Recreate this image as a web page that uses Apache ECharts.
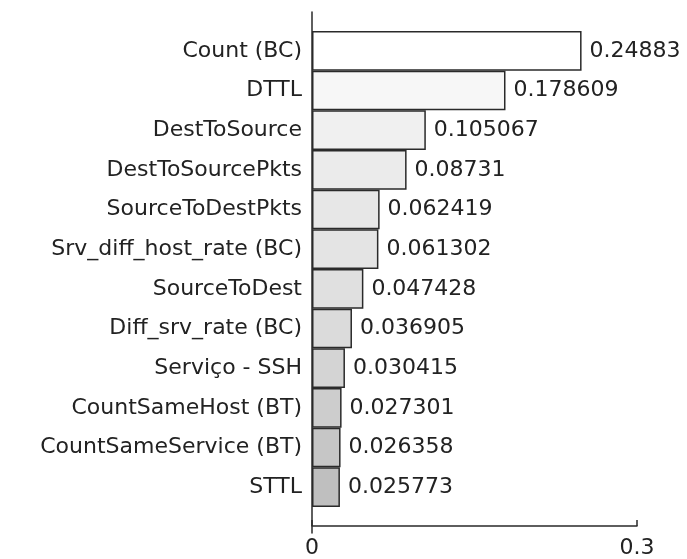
<!DOCTYPE html>
<html>
<head>
<meta charset="utf-8">
<script src="https://cdn.jsdelivr.net/npm/echarts@6/dist/echarts.min.js"></script>
<style>
  html, body { margin: 0; padding: 0; background: #fff; }
  #chart { width: 687px; height: 559px; }
</style>
</head>
<body>
<div id="chart"></div>
<script>
const features = [
  'Count (BC)', 'DTTL', 'DestToSource', 'DestToSourcePkts', 'SourceToDestPkts',
  'Srv_diff_host_rate (BC)', 'SourceToDest', 'Diff_srv_rate (BC)', 'Serviço - SSH',
  'CountSameHost (BT)', 'CountSameService (BT)', 'STTL'
];
const importance = [
  0.24883, 0.178609, 0.105067, 0.08731, 0.062419,
  0.061302, 0.047428, 0.036905, 0.030415,
  0.027301, 0.026358, 0.025773
];
const valueLabels = [
  '0.24883', '0.178609', '0.105067', '0.08731', '0.062419',
  '0.061302', '0.047428', '0.036905', '0.030415',
  '0.027301', '0.026358', '0.025773'
];
const xMin = 0;
const xMax = 0.3;

// grey ramp, light at the top bar to darker at the bottom
const shades = [
  '#ffffff', '#f7f7f7', '#f0f0f0', '#ebebeb', '#e7e7e7', '#e4e4e4',
  '#e0e0e0', '#dbdbdb', '#d4d4d4', '#cdcdcd', '#c6c6c6', '#bfbfbf'
];

const font = 'DejaVu Sans';
const textColor = '#222';

const inst = echarts.init(document.getElementById('chart'), null, { renderer: 'canvas' });
inst.setOption({
  animation: false,
  backgroundColor: '#fff',
  grid: [
    { left: 312, right: 50, top: 31, bottom: 52 },
    { left: 312, right: 50, top: 12, bottom: 26 }
  ],
  xAxis: [
    { gridIndex: 0, type: 'value', min: xMin, max: xMax, show: false },
    {
      gridIndex: 1, type: 'value', min: xMin, max: xMax, interval: 0.3,
      offset: -7,
      axisLine: { show: true, lineStyle: { color: '#2a2a2a', width: 1.5 } },
      axisTick: { show: true, inside: true, length: 6, lineStyle: { color: '#2a2a2a', width: 1.5 } },
      axisLabel: { color: textColor, fontFamily: font, fontSize: 22, margin: 11 },
      splitLine: { show: false }
    }
  ],
  yAxis: [
    {
      gridIndex: 0, type: 'category', data: features, inverse: true,
      axisLine: { show: false }, axisTick: { show: false },
      axisLabel: { color: textColor, fontFamily: font, fontSize: 22, margin: 10 }
    },
    {
      gridIndex: 1, type: 'value', min: 0, max: 1,
      axisLine: { show: true, lineStyle: { color: '#2a2a2a', width: 1.5 } },
      axisTick: { show: false }, axisLabel: { show: false }, splitLine: { show: false }
    }
  ],
  series: [{
    type: 'bar',
    xAxisIndex: 0,
    yAxisIndex: 0,
    data: importance,
    barCategoryGap: '0%',
    itemStyle: {
      color: (p) => shades[p.dataIndex],
      borderColor: '#2a2a2a',
      borderWidth: 1.5
    },
    label: {
      show: true,
      position: 'right',
      distance: 8,
      color: textColor,
      fontFamily: font,
      fontSize: 22,
      formatter: (p) => valueLabels[p.dataIndex]
    }
  }]
});
</script>
</body>
</html>
